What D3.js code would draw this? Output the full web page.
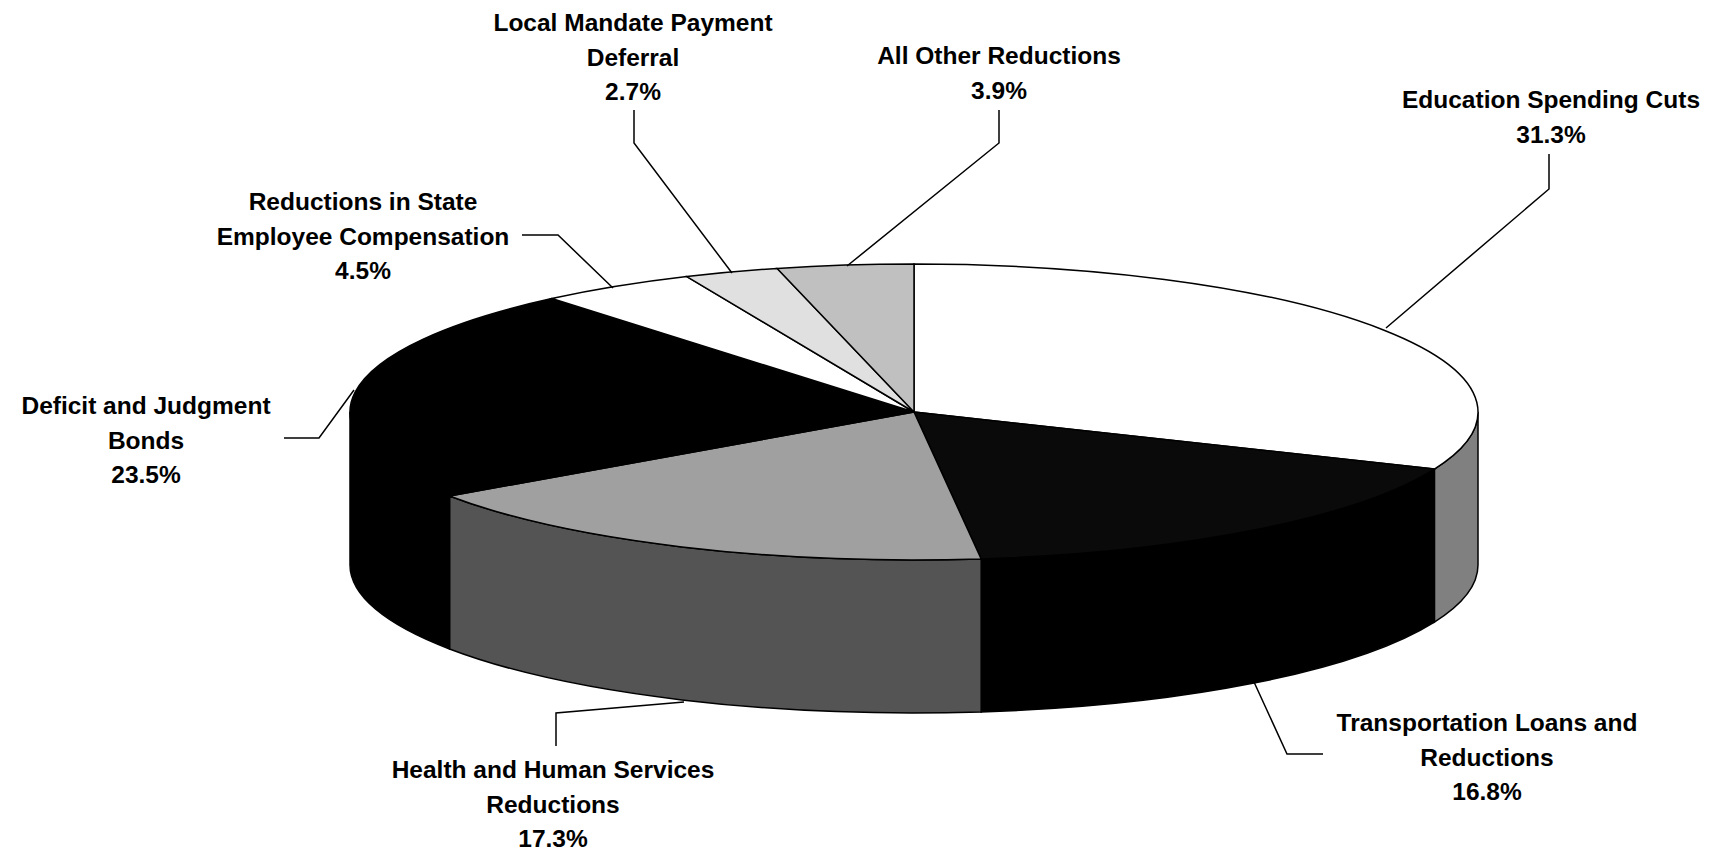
<!DOCTYPE html>
<html><head><meta charset="utf-8">
<script src="https://cdn.jsdelivr.net/npm/d3@7"></script>
<style>body{margin:0;background:#fff}text{font-family:"Liberation Sans",Arial,sans-serif;font-weight:bold;font-size:24.5px}</style>
</head><body><svg id="c" width="1724" height="851"></svg>
<script>
// data
const categories = ["Education Spending Cuts", "Transportation Loans and Reductions", "Health and Human Services Reductions",
  "Deficit and Judgment Bonds", "Reductions in State Employee Compensation", "Local Mandate Payment Deferral", "All Other Reductions"];
const shares = [31.3, 16.8, 17.3, 23.5, 4.5, 2.7, 3.9];
const labelLines = [["Education Spending Cuts"], ["Transportation Loans and", "Reductions"], ["Health and Human Services", "Reductions"],
  ["Deficit and Judgment", "Bonds"], ["Reductions in State", "Employee Compensation"], ["Local Mandate Payment", "Deferral"], ["All Other Reductions"]];

// styling / layout
const topFill = ["#ffffff", "#0a0a0a", "#a0a0a0", "#000000", "#ffffff", "#e0e0e0", "#c0c0c0"];
const sideFill = ["#808080", "#000000", "#545454", "#000000", "#cccccc", "#b0b0b0", "#999999"];
const labelPos = [[1551, 99], [1487, 722], [553, 769], [146, 405], [363, 201], [633, 22], [999, 55]];
const leaders = [
  [[1549, 154], [1549, 189], [1386, 328]],
  [[1323, 754], [1287, 754], [1254, 682]],
  [[556, 746], [556, 713], [684, 702]],
  [[284, 438], [319, 438], [354, 390]],
  [[522, 235], [558, 235], [613, 288]],
  [[634, 110], [634, 143], [732, 273]],
  [[999, 110], [999, 143], [847, 266]]
];

const cx = 914, cy = 412, rx = 564, ry = 148, depth = 153;
const svg = d3.select("#c");

const pie = d3.pie().sort(null).value(d => d)(shares);
const pt = (a, dy = 0) => [cx + rx * Math.sin(a), cy - ry * Math.cos(a) + dy];

// side walls (front half only)
pie.forEach((s, i) => {
  const a = Math.max(s.startAngle, Math.PI / 2), b = Math.min(s.endAngle, 1.5 * Math.PI);
  if (b <= a) return;
  const p1 = pt(a), p2 = pt(b), p3 = pt(b, depth), p4 = pt(a, depth);
  const large = b - a > Math.PI ? 1 : 0;
  svg.append("path")
    .attr("d", `M${p1}A${rx},${ry} 0 ${large} 1 ${p2}L${p3}A${rx},${ry} 0 ${large} 0 ${p4}Z`)
    .attr("fill", sideFill[i]).attr("stroke", "#000").attr("stroke-width", 1.5);
});

// tops
pie.forEach((s, i) => {
  const p1 = pt(s.startAngle), p2 = pt(s.endAngle);
  const large = s.endAngle - s.startAngle > Math.PI ? 1 : 0;
  svg.append("path")
    .attr("d", `M${cx},${cy}L${p1}A${rx},${ry} 0 ${large} 1 ${p2}Z`)
    .attr("fill", topFill[i]).attr("stroke", "#000").attr("stroke-width", 1.5);
});

// leader lines
svg.selectAll("polyline.lead").data(leaders).join("polyline")
  .attr("points", d => d.join(" ")).attr("fill", "none").attr("stroke", "#000").attr("stroke-width", 1.5);

// labels
categories.forEach((c, i) => {
  const lines = labelLines[i].concat([shares[i].toFixed(1) + "%"]);
  const t = svg.append("text").attr("text-anchor", "middle").attr("dominant-baseline", "central");
  lines.forEach((l, j) => t.append("tspan").attr("x", labelPos[i][0]).attr("y", labelPos[i][1] + j * 34.5).text(l));
});
</script></body></html>
